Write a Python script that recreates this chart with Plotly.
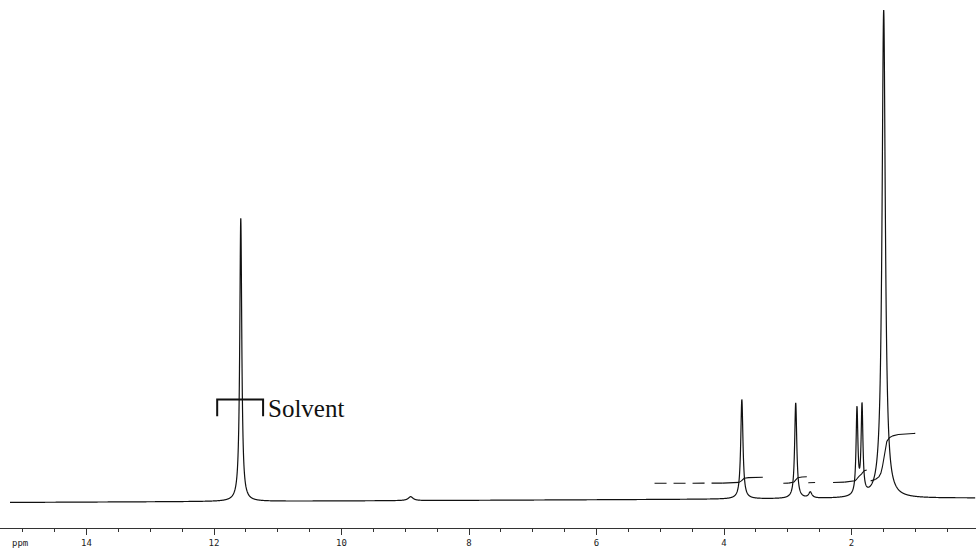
import numpy as np
import plotly.graph_objects as go

# ---- data ----
peak_ppm    = [11.58, 8.915, 3.72, 2.875, 2.646, 1.914, 1.835, 1.495]
peak_height = [57.8, 0.8, 20.3, 19.5, 1.2, 17.5, 18.0, 99.6]
peak_hw     = [0.019, 0.045, 0.021, 0.020, 0.03, 0.017, 0.017, 0.031]
baseline_left, baseline_right = -0.5, 0.4
spectrum_start, spectrum_end = 15.2, 0.06

integral_start = [5.09, 3.07, 2.68, 2.29, 1.70]
integral_end   = [3.39, 2.70, 2.57, 1.76, 1.00]
integral_level = [3.41, 3.41, 3.53, 3.57, 3.90]
integral_rise  = [1.22, 1.35, 0.05, 2.55, 9.70]

tick_values = [14, 12, 10, 8, 6, 4, 2]
tick_labels = ["14", "12", "10", "8", "6", "4", "2"]
axis_unit_label = "ppm"
solvent_label = "Solvent"
solvent_range = [11.95, 11.23]

# ---- build spectrum from the peak list ----
ppm = np.linspace(spectrum_start, spectrum_end, 12000)
signal = np.zeros_like(ppm)
for c, h, w in zip(peak_ppm, peak_height, peak_hw):
    signal += h * w**2 / ((ppm - c) ** 2 + w**2)
baseline = np.linspace(baseline_left, baseline_right, ppm.size)
spectrum = signal + baseline

fig = go.Figure()
fig.add_trace(go.Scatter(x=ppm, y=spectrum, mode="lines",
                         line=dict(color="#111111", width=1.2, simplify=False),
                         hoverinfo="skip", showlegend=False))

# ---- integral traces ----
for s, e, lvl, rise in zip(integral_start, integral_end, integral_level, integral_rise):
    m = (ppm <= s) & (ppm >= e)
    xs = ppm[m]
    cum = np.cumsum(signal[m])
    norm = (cum - cum[0]) / (cum[-1] - cum[0])
    ys = lvl + rise * norm
    k = int(np.searchsorted(norm, 0.03))
    k = max(k, 2)
    fig.add_trace(go.Scatter(x=xs[:k + 1], y=ys[:k + 1], mode="lines",
                             line=dict(color="#111111", width=1.1, dash="12px,7px"),
                             hoverinfo="skip", showlegend=False))
    fig.add_trace(go.Scatter(x=xs[k:], y=ys[k:], mode="lines",
                             line=dict(color="#111111", width=1.1),
                             hoverinfo="skip", showlegend=False))

# ---- solvent bracket and label ----
br_top, br_bot = 20.5, 17.1
fig.add_shape(type="path",
              path=f"M {solvent_range[0]} {br_bot} L {solvent_range[0]} {br_top} "
                   f"L {solvent_range[1]} {br_top} L {solvent_range[1]} {br_bot}",
              xref="x", yref="y", line=dict(color="#111111", width=2))
fig.add_annotation(x=11.18, y=18.7, xref="x", yref="y", text=solvent_label,
                   showarrow=False, xanchor="left", yanchor="middle",
                   font=dict(family="Liberation Serif", size=25, color="#111111"))

fig.add_annotation(x=20 / 976, y=-0.029, xref="paper", yref="paper",
                   text=axis_unit_label, showarrow=False,
                   xanchor="center", yanchor="middle",
                   font=dict(family="DejaVu Sans Mono", size=9, color="#222222"))

fig.update_layout(
    width=976, height=549,
    margin=dict(l=0, r=0, t=0, b=21),
    paper_bgcolor="white", plot_bgcolor="white",
    xaxis=dict(range=[979 / 63.75, (979 - 976) / 63.75],
               showgrid=False, zeroline=False,
               showline=True, linecolor="#333333", linewidth=1,
               ticks="outside", ticklen=6, tickwidth=1, tickcolor="#333333",
               tickvals=tick_values, ticktext=tick_labels,
               tickfont=dict(family="DejaVu Sans Mono", size=9, color="#222222"),
               minor=dict(ticks="outside", ticklen=3, tickwidth=1,
                          tickcolor="#333333", dtick=0.5, tick0=0, showgrid=False)),
    yaxis=dict(range=[-28 / 4.9, 500 / 4.9], visible=False),
)

fig.write_html("out.html", config={"displayModeBar": False},
               post_script="document.body.style.margin='0px';"
                           "document.body.style.overflow='hidden';")
